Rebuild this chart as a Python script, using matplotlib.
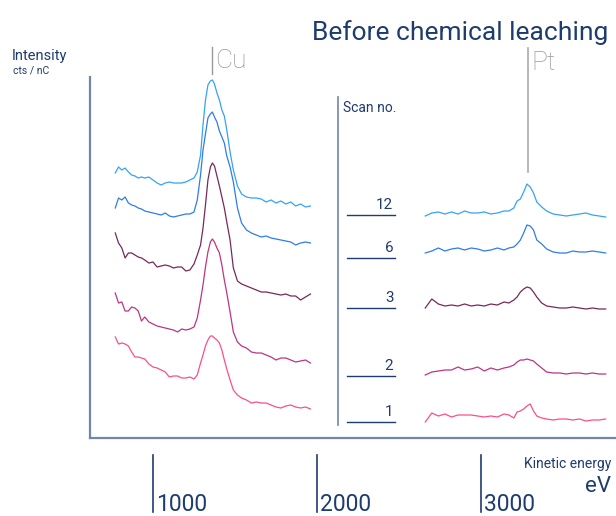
import matplotlib
matplotlib.use("Agg")
import matplotlib.pyplot as plt
import matplotlib.transforms as mtransforms

plt.rcParams['font.family'] = ['Roboto', 'DejaVu Sans']

# Cu LMM region, energies in eV
cu_energy = [770, 790, 810, 830, 850, 870, 890, 910, 930, 950, 975, 1000, 1025, 1050, 1075, 1100,
             1125, 1150, 1175, 1200, 1225, 1250, 1270, 1290, 1305, 1320, 1335, 1350, 1362, 1375,
             1390, 1405, 1420, 1435, 1450, 1470, 1490, 1515, 1540, 1570, 1600, 1630, 1660, 1690,
             1720, 1750, 1780, 1810, 1840, 1870, 1900, 1930, 1960]

# intensities with the stacking offset already in (cts / nC, arbitrary)
cu_scan12 = [265, 271, 268, 270, 266, 263, 262, 260, 261, 260, 261, 258, 255, 253, 255, 256, 255, 255,
             255, 256, 258, 260, 266, 283, 313, 338, 353, 357, 358, 354, 345, 338, 328, 322, 308, 286,
             268, 252, 244, 241, 240, 240, 239, 236, 238, 235, 237, 234, 236, 232, 234, 231, 232]
cu_scan6 = [230, 240, 238, 241, 235, 233, 232, 230, 229, 227, 226, 225, 224, 223, 225, 222, 221, 222,
            223, 224, 224, 226, 238, 263, 288, 304, 320, 324, 326, 321, 316, 307, 301, 295, 282, 271,
            256, 230, 215, 208, 205, 203, 201, 202, 200, 199, 198, 197, 196, 193, 195, 196, 195]
cu_scan3 = [205, 195, 190, 180, 185, 185, 183, 181, 180, 178, 175, 176, 171, 172, 173, 172, 170, 171,
            171, 167, 168, 174, 183, 193, 210, 233, 258, 271, 275, 272, 262, 252, 241, 230, 216, 198,
            170, 157, 154, 152, 150, 148, 146, 146, 145, 144, 143, 144, 142, 142, 138, 141, 144]
cu_scan2 = [145, 135, 136, 127, 127, 131, 130, 127, 117, 121, 116, 114, 112, 111, 110, 109, 108, 106,
            109, 108, 109, 111, 120, 138, 153, 171, 186, 196, 199, 196, 190, 185, 173, 158, 145, 126,
            106, 96, 92, 90, 86, 85, 85, 83, 81, 78, 80, 80, 78, 76, 77, 78, 75]
cu_scan1 = [101, 94, 95, 94, 92, 86, 81, 81, 80, 79, 74, 71, 70, 68, 66, 61, 62, 62, 60, 60, 61, 59,
            63, 75, 83, 92, 98, 102, 102, 100, 98, 95, 88, 78, 69, 58, 48, 43, 40, 38, 35, 36, 35,
            35, 33, 31, 30, 32, 33, 31, 30, 31, 29]

# Pt MNN region
pt_energy = [2660, 2700, 2740, 2780, 2820, 2860, 2900, 2940, 2980, 3020, 3060, 3100, 3140, 3170, 3200,
             3220, 3240, 3260, 3280, 3300, 3320, 3340, 3370, 3400, 3440, 3480, 3520, 3560, 3600, 3640,
             3680, 3720, 3760]
pt_scan12 = [222, 225, 226, 224, 226, 224, 227, 225, 225, 226, 224, 225, 227, 227, 230, 237, 239, 246,
             254, 251, 245, 236, 231, 227, 224, 223, 222, 223, 224, 225, 223, 222, 221]
pt_scan6 = [185, 187, 190, 187, 189, 190, 188, 190, 189, 187, 188, 190, 188, 190, 191, 194, 198, 205,
            213, 212, 208, 198, 194, 189, 186, 185, 185, 187, 186, 186, 187, 186, 185]
pt_scan3 = [130, 139, 134, 132, 133, 132, 134, 132, 133, 132, 134, 133, 136, 135, 138, 141, 146, 149,
            151, 150, 146, 141, 135, 132, 131, 130, 130, 131, 130, 129, 130, 129, 129]
pt_scan2 = [63, 66, 67, 68, 68, 71, 68, 69, 71, 67, 70, 68, 70, 71, 73, 76, 78, 78, 79, 78, 77, 74, 70,
            66, 65, 65, 64, 65, 65, 64, 65, 64, 64]
pt_scan1 = [16, 25, 22, 24, 21, 23, 23, 23, 22, 21, 22, 21, 24, 23, 20, 26, 27, 29, 32, 34, 27, 22, 20,
            19, 18, 19, 19, 18, 19, 17, 18, 18, 19]

scan_names = ['12', '6', '3', '2', '1']
scan_levels = [223, 180, 130, 62, 16]
scan_colors = ['#35a3f4', '#2f7ce8', '#76295a', '#bd3486', '#fb4f8a']

tick_values = [1000, 2000, 3000]
cu_line = 1360
pt_line = 3287

navy = '#1f3c6f'
axis_col = '#6f86ad'
grey = '#999999'

fig = plt.figure(figsize=(6.16, 5.16), dpi=100)
ax = fig.add_axes([90 / 616, 78 / 516, 526 / 616, 361 / 516])
ax.set_xlim(616, 3823)
ax.set_ylim(0, 361)

cu_all = [cu_scan12, cu_scan6, cu_scan3, cu_scan2, cu_scan1]
pt_all = [pt_scan12, pt_scan6, pt_scan3, pt_scan2, pt_scan1]
for cu, pt, c in zip(cu_all, pt_all, scan_colors):
    ax.plot(cu_energy, cu, color=c, lw=0.9)
    ax.plot(pt_energy, pt, color=c, lw=0.9)

for s in ['top', 'right']:
    ax.spines[s].set_visible(False)
for s in ['left', 'bottom']:
    ax.spines[s].set_color(axis_col)
    ax.spines[s].set_linewidth(1.6)
ax.set_xticks([])
ax.set_yticks([])

# scan number key
ax.plot([2128, 2128], [13, 341], color=axis_col, lw=1.2)
ax.text(2160, 326, 'Scan no.', fontsize=10, color=navy, va='baseline', ha='left')
for name, lev in zip(scan_names, scan_levels):
    ax.plot([2183, 2476], [lev, lev], color=navy, lw=1.0)
    ax.text(2466, lev + 3, name, fontsize=11, color=navy, ha='right', va='bottom')

# element markers
ax.plot([cu_line, cu_line], [364, 391], color=grey, lw=1.0, clip_on=False)
ax.text(cu_line + 20, 370, 'Cu', fontsize=19, color=grey, ha='left', va='baseline', weight='light')
ax.plot([pt_line, pt_line], [266, 390], color='#aaaaaa', lw=1.2, clip_on=False)
ax.text(pt_line + 20, 368, 'Pt', fontsize=19, color=grey, ha='left', va='baseline', weight='light')

# energy ticks below the axis
trans = mtransforms.blended_transform_factory(ax.transData, fig.transFigure)
for t in tick_values:
    ax.plot([t, t], [4 / 516, 61 / 516], color=navy, lw=1.2, transform=trans, clip_on=False)
    ax.text(t + 20, 5 / 516, str(t), fontsize=16.5, color=navy, transform=trans,
            ha='left', va='baseline')

fig.text(608 / 616, 476 / 516, 'Before chemical leaching', fontsize=19, color=navy,
         ha='right', va='baseline')
fig.text(12 / 616, 456 / 516, 'Intensity', fontsize=10.5, color=navy, ha='left', va='baseline')
fig.text(13 / 616, 443 / 516, 'cts / nC', fontsize=7.5, color=navy, ha='left', va='baseline')
fig.text(611 / 616, 48 / 516, 'Kinetic energy', fontsize=10, color=navy, ha='right', va='baseline')
fig.text(611 / 616, 24 / 516, 'eV', fontsize=16, color=navy, ha='right', va='baseline')

fig.savefig('out.png', dpi=100)
